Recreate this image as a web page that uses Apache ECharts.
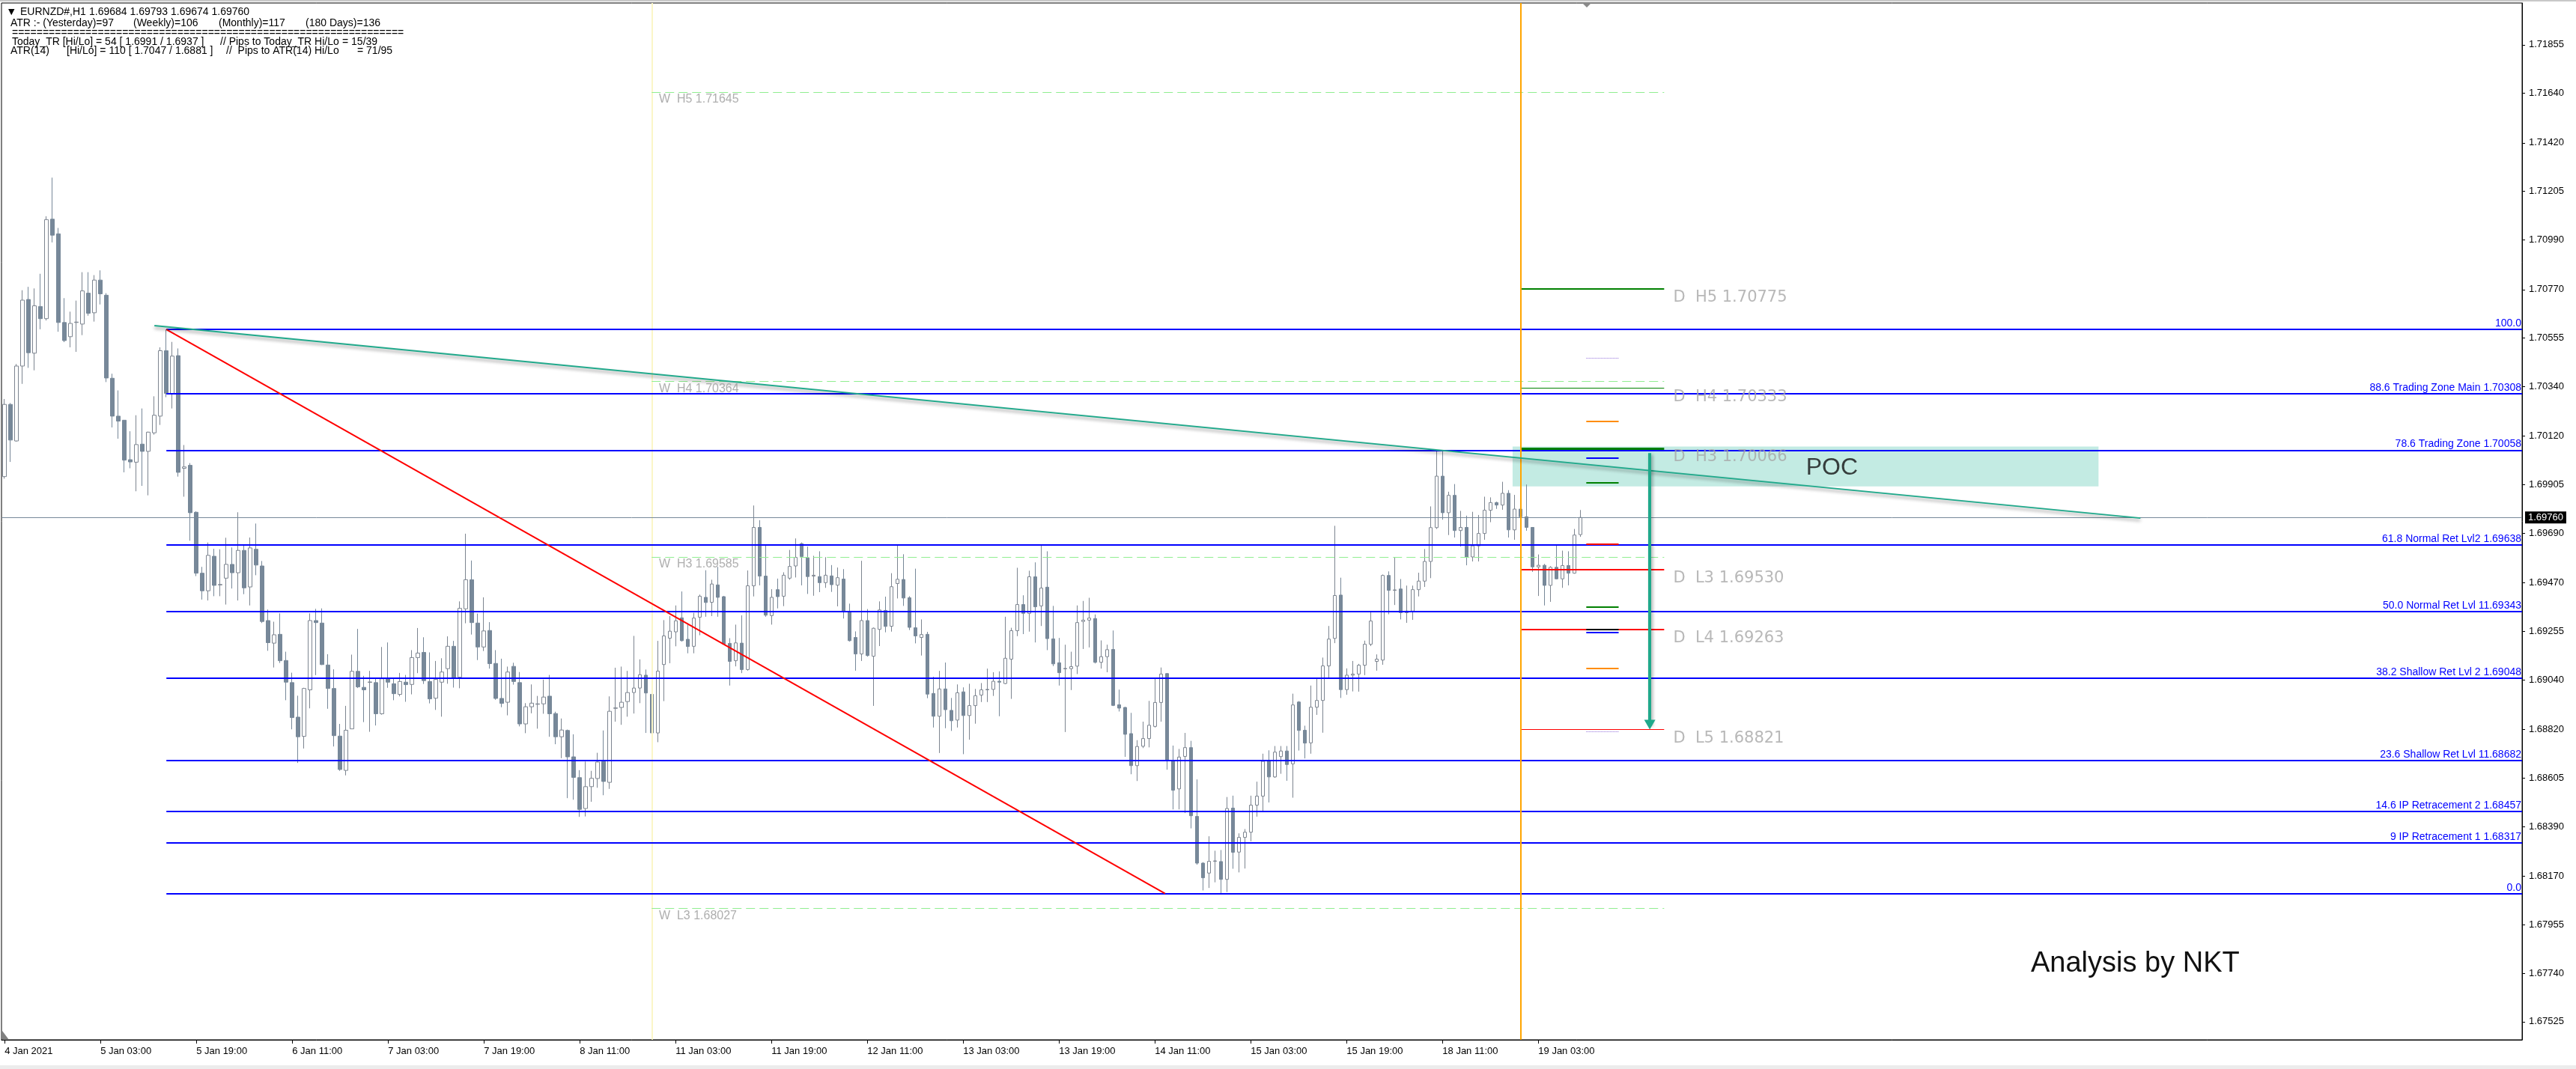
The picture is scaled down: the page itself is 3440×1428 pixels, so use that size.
<!DOCTYPE html>
<html><head><meta charset="utf-8">
<script src="https://cdn.jsdelivr.net/npm/echarts@6/dist/echarts.min.js"></script>
<style>html,body{margin:0;padding:0;background:#fff;}#c{width:3440px;height:1428px;}</style>
</head><body><div id="c"></div><script>
// ---- DATA ----
// EURNZD H1 candles, bar 0 = 4 Jan 2021 11:00 ; each item [open, close, low, high]
const candles = [
[1.69941,1.70261,1.69932,1.70285],[1.70261,1.70103,1.70006,1.70267],[1.70099,1.70431,1.70096,1.70440],[1.70431,1.70723,1.70352,1.70767],
[1.70726,1.70490,1.70423,1.70782],[1.70488,1.70698,1.70412,1.70775],[1.70695,1.70641,1.70594,1.70840],[1.70641,1.71080,1.70633,1.71095],
[1.71082,1.71011,1.70979,1.71266],[1.71017,1.70624,1.70583,1.71043],[1.70624,1.70544,1.70537,1.70732],[1.70561,1.70620,1.70514,1.70672],
[1.70624,1.70626,1.70494,1.70721],[1.70617,1.70764,1.70568,1.70847],[1.70754,1.70665,1.70654,1.70847],[1.70667,1.70812,1.70628,1.70834],
[1.70812,1.70751,1.70704,1.70855],[1.70745,1.70378,1.70360,1.70754],[1.70377,1.70209,1.70159,1.70397],[1.70209,1.70187,1.70109,1.70323],
[1.70191,1.70014,1.69960,1.70191],[1.70016,1.70006,1.69978,1.70142],[1.70005,1.70083,1.69876,1.70213],[1.70085,1.70053,1.69900,1.70243],
[1.70053,1.70138,1.69858,1.70140],[1.70135,1.70213,1.70127,1.70297],[1.70209,1.70499,1.70170,1.70514],[1.70499,1.70310,1.70293,1.70593],
[1.70308,1.70475,1.70243,1.70538],[1.70477,1.69960,1.69941,1.70509],[1.69978,1.69984,1.69852,1.70081],[1.69991,1.69781,1.69657,1.70001],
[1.69783,1.69513,1.69500,1.69787],[1.69513,1.69435,1.69396,1.69541],[1.69435,1.69592,1.69392,1.69649],[1.69588,1.69459,1.69411,1.69621],
[1.69461,1.69463,1.69411,1.69619],[1.69491,1.69552,1.69374,1.69670],[1.69552,1.69515,1.69445,1.69627],[1.69515,1.69614,1.69392,1.69783],
[1.69614,1.69448,1.69420,1.69638],[1.69452,1.69625,1.69370,1.69671],[1.69619,1.69549,1.69504,1.69733],[1.69545,1.69299,1.69292,1.69567],
[1.69303,1.69205,1.69169,1.69352],[1.69203,1.69240,1.69095,1.69298],[1.69242,1.69125,1.69115,1.69335],[1.69126,1.69030,1.68950,1.69165],
[1.69028,1.68873,1.68821,1.69072],[1.68875,1.68788,1.68672,1.68970],[1.68790,1.69002,1.68736,1.69005],[1.68996,1.69303,1.68914,1.69335],
[1.69303,1.69294,1.69061,1.69355],[1.69292,1.69108,1.69106,1.69357],[1.69106,1.69002,1.68912,1.69154],[1.69002,1.68793,1.68745,1.69087],
[1.68791,1.68643,1.68637,1.68845],[1.68639,1.68817,1.68617,1.68925],[1.68823,1.69078,1.68823,1.69152],[1.69078,1.69009,1.69004,1.69266],
[1.69007,1.68996,1.68853,1.69058],[1.69029,1.69031,1.68810,1.69080],[1.69028,1.68890,1.68838,1.69048],[1.68890,1.69045,1.68886,1.69186],
[1.69045,1.69030,1.69005,1.69206],[1.69023,1.68979,1.68950,1.69046],[1.68976,1.69033,1.68967,1.69071],[1.69030,1.69019,1.68943,1.69062],
[1.69020,1.69139,1.68976,1.69172],[1.69139,1.69159,1.69070,1.69270],[1.69162,1.69037,1.69022,1.69229],[1.69033,1.68956,1.68936,1.69162],
[1.68959,1.69042,1.68907,1.69124],[1.69030,1.69075,1.68877,1.69136],[1.69090,1.69189,1.69023,1.69233],[1.69189,1.69050,1.69006,1.69213],
[1.69052,1.69357,1.69003,1.69388],[1.69355,1.69484,1.69291,1.69688],[1.69484,1.69294,1.69241,1.69569],[1.69292,1.69186,1.69128,1.69334],
[1.69186,1.69257,1.69168,1.69406],[1.69259,1.69112,1.69090,1.69296],[1.69113,1.68958,1.68952,1.69172],[1.68958,1.68936,1.68919,1.69134],
[1.68941,1.69075,1.68883,1.69099],[1.69100,1.69033,1.69019,1.69116],[1.69028,1.68845,1.68834,1.69075],[1.68845,1.68921,1.68804,1.68937],
[1.68921,1.68937,1.68892,1.69020],[1.68932,1.68934,1.68824,1.68969],[1.68934,1.68964,1.68890,1.69041],[1.68968,1.68890,1.68788,1.69062],
[1.68891,1.68788,1.68755,1.68899],[1.68788,1.68818,1.68693,1.68869],[1.68816,1.68699,1.68516,1.68820],[1.68699,1.68608,1.68509,1.68799],
[1.68607,1.68466,1.68433,1.68640],[1.68470,1.68567,1.68435,1.68678],[1.68567,1.68604,1.68500,1.68637],[1.68603,1.68676,1.68562,1.68717],
[1.68678,1.68590,1.68529,1.68816],[1.68586,1.68901,1.68557,1.68967],[1.68914,1.68916,1.68855,1.69094],[1.68918,1.68941,1.68841,1.69099],
[1.68944,1.68984,1.68877,1.69080],[1.68984,1.69004,1.68891,1.69235],[1.69004,1.69063,1.68937,1.69131],[1.69061,1.68982,1.68805,1.69086],
[1.68976,1.68805,1.68731,1.69020],[1.68805,1.69079,1.68764,1.69213],[1.69108,1.69235,1.68946,1.69305],[1.69225,1.69256,1.69114,1.69323],
[1.69253,1.69302,1.69189,1.69370],[1.69315,1.69214,1.69210,1.69432],[1.69220,1.69188,1.69158,1.69291],[1.69189,1.69314,1.69158,1.69337],
[1.69318,1.69411,1.69238,1.69418],[1.69406,1.69383,1.69320,1.69526],[1.69384,1.69465,1.69323,1.69484],[1.69461,1.69406,1.69320,1.69541],
[1.69409,1.69199,1.69197,1.69412],[1.69202,1.69122,1.69015,1.69225],[1.69125,1.69204,1.69100,1.69285],[1.69203,1.69086,1.69070,1.69326],
[1.69086,1.69457,1.69081,1.69525],[1.69457,1.69716,1.69410,1.69813],[1.69716,1.69500,1.69459,1.69748],[1.69500,1.69327,1.69320,1.69638],
[1.69325,1.69406,1.69285,1.69442],[1.69440,1.69409,1.69357,1.69489],[1.69411,1.69504,1.69367,1.69517],[1.69491,1.69543,1.69484,1.69616],
[1.69545,1.69583,1.69494,1.69667],[1.69644,1.69587,1.69459,1.69649],[1.69581,1.69498,1.69421,1.69631],[1.69500,1.69504,1.69413,1.69590],
[1.69498,1.69471,1.69429,1.69610],[1.69471,1.69504,1.69448,1.69584],[1.69501,1.69462,1.69430,1.69549],[1.69460,1.69493,1.69366,1.69538],
[1.69487,1.69342,1.69312,1.69531],[1.69344,1.69214,1.69210,1.69378],[1.69228,1.69155,1.69081,1.69255],[1.69155,1.69303,1.69124,1.69568],
[1.69303,1.69148,1.69143,1.69354],[1.69145,1.69269,1.68925,1.69272],[1.69264,1.69350,1.69190,1.69388],[1.69348,1.69277,1.69251,1.69409],
[1.69278,1.69453,1.69254,1.69513],[1.69467,1.69486,1.69401,1.69640],[1.69485,1.69403,1.69368,1.69597],[1.69404,1.69273,1.69261,1.69411],
[1.69271,1.69235,1.69202,1.69533],[1.69228,1.69241,1.69148,1.69308],[1.69242,1.68977,1.68959,1.69253],[1.68980,1.68879,1.68829,1.69054],
[1.68879,1.69000,1.68716,1.69080],[1.69000,1.68908,1.68826,1.69117],[1.68905,1.68859,1.68814,1.68960],[1.68862,1.68983,1.68829,1.69020],
[1.68987,1.68882,1.68711,1.69007],[1.68882,1.68926,1.68775,1.69023],[1.68926,1.68970,1.68846,1.69000],[1.68973,1.68996,1.68942,1.69026],
[1.68996,1.68998,1.68942,1.69090],[1.68998,1.69034,1.68969,1.69074],[1.69034,1.69030,1.68879,1.69078],[1.69024,1.69136,1.69021,1.69320],
[1.69132,1.69258,1.68956,1.69271],[1.69258,1.69374,1.69234,1.69537],[1.69374,1.69335,1.69243,1.69415],[1.69335,1.69497,1.69254,1.69524],
[1.69497,1.69364,1.69206,1.69561],[1.69368,1.69447,1.69279,1.69638],[1.69451,1.69223,1.69172,1.69610],[1.69222,1.69111,1.69101,1.69368],
[1.69116,1.69072,1.69015,1.69226],[1.69089,1.69091,1.68809,1.69196],[1.69090,1.69099,1.68995,1.69165],[1.69101,1.69294,1.69066,1.69370],
[1.69299,1.69305,1.69177,1.69390],[1.69305,1.69314,1.69184,1.69404],[1.69312,1.69118,1.69113,1.69330],[1.69118,1.69143,1.69090,1.69215],
[1.69143,1.69174,1.69074,1.69196],[1.69175,1.68927,1.68924,1.69259],[1.68930,1.68915,1.68900,1.68997],[1.68918,1.68799,1.68699,1.68920],
[1.68802,1.68660,1.68622,1.68894],[1.68660,1.68745,1.68592,1.68773],[1.68746,1.68780,1.68738,1.68855],[1.68780,1.68839,1.68741,1.68947],
[1.68834,1.68940,1.68829,1.69046],[1.68940,1.69066,1.68855,1.69095],[1.69068,1.68681,1.68642,1.69070],[1.68681,1.68551,1.68466,1.68749],
[1.68557,1.68698,1.68466,1.68734],[1.68701,1.68740,1.68450,1.68805],[1.68740,1.68438,1.68382,1.68770],[1.68435,1.68228,1.68221,1.68599],
[1.68228,1.68163,1.68107,1.68232],[1.68184,1.68236,1.68118,1.68347],[1.68236,1.68238,1.68143,1.68283],[1.68235,1.68156,1.68093,1.68286],
[1.68156,1.68470,1.68100,1.68521],[1.68472,1.68276,1.68203,1.68527],[1.68277,1.68342,1.68187,1.68360],[1.68342,1.68365,1.68204,1.68379],
[1.68365,1.68485,1.68325,1.68527],[1.68485,1.68525,1.68434,1.68589],[1.68525,1.68679,1.68459,1.68713],[1.68681,1.68610,1.68497,1.68728],
[1.68610,1.68720,1.68606,1.68747],[1.68700,1.68725,1.68624,1.68747],[1.68725,1.68665,1.68593,1.68747],[1.68668,1.68929,1.68518,1.68979],
[1.68942,1.68816,1.68727,1.68946],[1.68817,1.68760,1.68692,1.68837],[1.68761,1.68919,1.68713,1.69015],[1.68919,1.68949,1.68885,1.69050],
[1.68949,1.69102,1.68806,1.69139],[1.69102,1.69221,1.69050,1.69279],[1.69224,1.69414,1.69203,1.69723],[1.69416,1.68997,1.68960,1.69493],
[1.68997,1.69061,1.68974,1.69091],[1.69061,1.69066,1.68989,1.69124],[1.69066,1.69105,1.68988,1.69111],[1.69105,1.69198,1.69061,1.69214],
[1.69198,1.69301,1.69190,1.69345],[1.69122,1.69132,1.69081,1.69153],[1.69128,1.69503,1.69107,1.69507],[1.69503,1.69437,1.69331,1.69521],
[1.69437,1.69439,1.69372,1.69585],[1.69443,1.69338,1.69308,1.69487],[1.69338,1.69345,1.69293,1.69458],[1.69345,1.69440,1.69306,1.69458],
[1.69440,1.69478,1.69410,1.69515],[1.69478,1.69565,1.69452,1.69620],[1.69565,1.69715,1.69491,1.69809],[1.69715,1.69943,1.69709,1.70057],
[1.69943,1.69781,1.69750,1.70057],[1.69781,1.69858,1.69682,1.69874],[1.69858,1.69702,1.69671,1.69908],[1.69702,1.69716,1.69631,1.69789],
[1.69716,1.69585,1.69548,1.69768],[1.69585,1.69634,1.69565,1.69785],[1.69634,1.69689,1.69565,1.69771],[1.69689,1.69792,1.69661,1.69852],
[1.69792,1.69826,1.69739,1.69849],[1.69826,1.69815,1.69798,1.69830],[1.69815,1.69867,1.69794,1.69918],[1.69867,1.69705,1.69671,1.69881],
[1.69705,1.69797,1.69661,1.69860],[1.69797,1.69763,1.69712,1.69829],[1.69763,1.69716,1.69701,1.69906],[1.69716,1.69541,1.69519,1.69716],
[1.69541,1.69548,1.69412,1.69596],[1.69548,1.69459,1.69370,1.69554],[1.69459,1.69539,1.69386,1.69544],[1.69539,1.69488,1.69486,1.69638],
[1.69488,1.69547,1.69448,1.69613],[1.69547,1.69513,1.69459,1.69610],[1.69513,1.69682,1.69511,1.69709],[1.69684,1.69760,1.69674,1.69793]
];
const timeTickIdx  = [0,16,32,48,64,80,96,112,128,144,160,176,192,208,224,240,256];
const timeTickText = ['4 Jan 2021','5 Jan 03:00','5 Jan 19:00','6 Jan 11:00','7 Jan 03:00','7 Jan 19:00','8 Jan 11:00',
  '11 Jan 03:00','11 Jan 19:00','12 Jan 11:00','13 Jan 03:00','13 Jan 19:00','14 Jan 11:00','15 Jan 03:00','15 Jan 19:00',
  '18 Jan 11:00','19 Jan 03:00'];
const priceTicks = [1.71855,1.71640,1.71420,1.71205,1.70990,1.70770,1.70555,1.70340,1.70120,1.69905,1.69690,1.69470,
  1.69255,1.69040,1.68820,1.68605,1.68390,1.68170,1.67955,1.67740,1.67525];
const currentPrice = 1.69760;
const fibPrice = [1.70593,1.70308,1.70058,1.69638,1.69343,1.69048,1.68682,1.68457,1.68317,1.68093];
const fibText  = ['100.0','88.6 Trading Zone Main 1.70308','78.6 Trading Zone 1.70058','61.8 Normal Ret Lvl2 1.69638',
  '50.0 Normal Ret Lvl 11.69343','38.2 Shallow Ret Lvl 2 1.69048','23.6 Shallow Ret Lvl 11.68682',
  '14.6 IP Retracement 2 1.68457','9 IP Retracement 1 1.68317','0.0'];
const fibStartBar = 27;
const dailyPivotName  = ['H5','H4','H3','L3','L4','L5'];
const dailyPivotPrice = [1.70775,1.70333,1.70066,1.69530,1.69263,1.68821];
const weeklyPivotName  = ['H5','H4','H3','L3'];
const weeklyPivotPrice = [1.71645,1.70364,1.69585,1.68027];
const rangeMarkPrice = [1.70468,1.70187,1.70023,1.69913,1.69641,1.69363,1.69252,1.69265,1.69090,1.68811];
const weekSepBar = 108, daySepBar = 253, pivotEndBar = 277;
const rangeMarkBars = [264, 269.4];
const tealTrend = [[25, 1.70610], [356.5, 1.69757]];
const redTrend  = [[27, 1.70593], [193.7, 1.68093]];
const arrowLine = [[274.6, 1.70045], [274.6, 1.68842]];
const pocBox = [[251.7, 1.70074], [349.5, 1.69898]];
const pocLabel = [305, 1.69980];

// ---- STYLE / BUILD ----
const X_MIN = -0.525, X_MAX = 420.2;
const FONT = '"Liberation Sans", Arial, sans-serif';
const rangeMarkStyle = [
  {color:'#9370db',type:'dotted',width:1},{color:'#ff8c00',type:'solid',width:2},{color:'#0000ff',type:'solid',width:2},
  {color:'#008000',type:'solid',width:2},{color:'#ff0000',type:'solid',width:2},{color:'#008000',type:'solid',width:2},
  {color:'#0000ff',type:'solid',width:2},{color:'#000000',type:'solid',width:2},{color:'#ff8c00',type:'solid',width:2},
  {color:'#9370db',type:'dotted',width:1}];
const dailyStyle = [{color:'#008000',width:2},{color:'#008000',width:1},{color:'#008000',width:3},
  {color:'#ff0000',width:2},{color:'#ff0000',width:2},{color:'#ff0000',width:1}].map(s=>Object.assign({type:'solid'},s));

const candleData = candles.map((c,i)=>[i,c[0],c[1],c[2],c[3]]);

const fibLines = fibPrice.map((p,k)=>[
  {coord:[fibStartBar,p], lineStyle:{color:'#0000ff',width:2,type:'solid'},
   label:{show:true,position:'insideEndTop',formatter:fibText[k],color:'#0000ff',fontSize:14,fontFamily:FONT,distance:1}},
  {coord:[X_MAX,p]}]);
const weeklyLines = weeklyPivotPrice.map(p=>[{coord:[weekSepBar,p],lineStyle:{color:'#90ee90',width:1,type:[12,6]}},{coord:[pivotEndBar,p]}]);
const dailyLines = dailyPivotPrice.map((p,k)=>[{coord:[daySepBar,p],lineStyle:dailyStyle[k]},{coord:[pivotEndBar,p]}]);
const rangeLines = rangeMarkPrice.map((p,k)=>[{coord:[rangeMarkBars[0],p],lineStyle:rangeMarkStyle[k]},{coord:[rangeMarkBars[1],p]}]);

const weeklyLabels = weeklyPivotPrice.map((p,k)=>[109.2,p,'W  '+weeklyPivotName[k]+' '+p.toFixed(5)]);
const dailyLabels = dailyPivotPrice.map((p,k)=>[278.5,p,'D  '+dailyPivotName[k]+' '+p.toFixed(5)]);

const hdrFont = '14px "Liberation Sans", Arial, sans-serif';
const header = [
 [11,16,'▼','11px "DejaVu Sans"'],[27,16,'EURNZD#,H1'],[119,16,'1.69684 1.69793 1.69674 1.69760'],
 [14,31,'ATR :- (Yesterday)=97'],[178,31,'(Weekly)=106'],[292,31,'(Monthly)=117'],[408,31,'(180 Days)=136'],
 [16,44,'================================================================'],
 [16,56,'Today_TR [Hi/Lo] = 54 [ 1.6991 / 1.6937 ]'],[294,56,'// Pips to Today_TR Hi/Lo'],[457,56,'= 15/39'],
 [14,68,'ATR(14)'],[89,68,'[Hi/Lo] = 110 [ 1.7047 / 1.6881 ]'],[302,68,'//  Pips to ATR(14) Hi/Lo'],[477,68,'= 71/95']
];

const chart = echarts.init(document.getElementById('c'), null, {renderer:'canvas'});
chart.setOption({
  animation:false,
  backgroundColor:'#ffffff',
  grid:{left:2,right:72,top:4,bottom:39,show:true,borderColor:'#000',borderWidth:1,backgroundColor:'#fff'},
  xAxis:{type:'value',min:X_MIN,max:X_MAX,splitLine:{show:false},
    axisLine:{show:true,onZero:false,lineStyle:{color:'#000',width:1}},
    axisTick:{show:true,customValues:timeTickIdx,length:5,lineStyle:{color:'#000'}},
    axisLabel:{customValues:timeTickIdx,formatter:v=>timeTickText[timeTickIdx.indexOf(Math.round(v))]||'',
      align:'left',margin:9,color:'#000',fontSize:13,fontFamily:FONT}},
  yAxis:{type:'value',position:'right',min:1.67445,max:1.7204,scale:true,splitLine:{show:false},
    axisLine:{show:true,onZero:false,lineStyle:{color:'#000',width:1}},
    axisTick:{show:true,customValues:priceTicks,length:4,lineStyle:{color:'#000'}},
    axisLabel:{customValues:priceTicks,formatter:v=>v.toFixed(5),margin:9,color:'#000',fontSize:13,fontFamily:FONT}},
  series:[
    {type:'candlestick',z:2,data:candleData,encode:{x:0,y:[1,2,3,4]},barWidth:5,
      itemStyle:{color:'#ffffff',color0:'#778899',borderColor:'#7d8590',borderColor0:'#778899',borderWidth:1}},
    {type:'line',z:3,data:[],
      markLine:{silent:true,precision:6,symbol:['none','none'],animation:false,label:{show:false},data:[
        {xAxis:weekSepBar,lineStyle:{color:'#fbf6c8',width:2,type:'solid'},label:{show:false}},
        {yAxis:currentPrice,lineStyle:{color:'#778899',width:1,type:'solid'},
          label:{show:true,position:'end',formatter:currentPrice.toFixed(5),backgroundColor:'#000',color:'#fff',
            padding:[2,4,1,4],fontSize:13,fontFamily:FONT,distance:4}}
      ].concat(weeklyLines)}},
    {type:'line',z:4,data:[],
      markLine:{silent:true,precision:6,symbol:['none','none'],animation:false,label:{show:false},data:fibLines.concat(dailyLines).concat(rangeLines).concat([
        {xAxis:daySepBar,lineStyle:{color:'#ffa500',width:2,type:'solid'},label:{show:false}},
        [{coord:redTrend[0],lineStyle:{color:'#ff0000',width:2,type:'solid'}},{coord:redTrend[1]}],
        [{coord:tealTrend[0],lineStyle:{color:'#1fa98b',width:2,type:'solid',shadowColor:'rgba(0,0,0,0.45)',shadowBlur:4,shadowOffsetY:3}},{coord:tealTrend[1]}]
      ])},
      markArea:{silent:true,itemStyle:{color:'rgba(34,180,150,0.27)'},data:[[{coord:pocBox[0]},{coord:pocBox[1]}]]}},
    {type:'line',z:5,data:[],
      markLine:{silent:true,precision:6,symbol:['none','triangle'],symbolSize:[15,13],animation:false,label:{show:false},
        data:[[{coord:arrowLine[0],lineStyle:{color:'#1fa98b',width:4,type:'solid',shadowColor:'rgba(0,0,0,0.35)',shadowBlur:4,shadowOffsetX:2,shadowOffsetY:2},itemStyle:{color:'#1fa98b'}},{coord:arrowLine[1]}]]}},
    {type:'scatter',z:6,symbolSize:0.1,itemStyle:{color:'rgba(0,0,0,0)'},silent:true,
      data:weeklyLabels,
      label:{show:true,position:'right',distance:0,offset:[0,10],formatter:p=>p.data[2],color:'#9a9a9a',fontSize:16,fontFamily:FONT}},
    {type:'scatter',z:6,symbolSize:0.1,itemStyle:{color:'rgba(0,0,0,0)'},silent:true,
      data:dailyLabels,
      label:{show:true,position:'right',distance:0,offset:[0,12],formatter:p=>p.data[2],color:'#a6a6a6',fontSize:21,fontFamily:'"DejaVu Sans", sans-serif'}},
    {type:'scatter',z:6,symbolSize:0.1,itemStyle:{color:'rgba(0,0,0,0)'},silent:true,
      data:[[pocLabel[0],pocLabel[1],'POC']],
      label:{show:true,position:'inside',formatter:p=>p.data[2],color:'#111',fontSize:32,fontFamily:FONT}}
  ],
  graphic:[
    {type:'rect',shape:{x:0,y:0,width:3440,height:2},style:{fill:'#c8c8c8'},silent:true},
    {type:'rect',shape:{x:0,y:1423,width:3440,height:5},style:{fill:'#ececec'},silent:true},
    {type:'polygon',shape:{points:[[2113,4],[2125,4],[2119,10]]},style:{fill:'#8a8a8a'},silent:true},
    {type:'polygon',shape:{points:[[3,1377],[3,1389],[12,1389]]},style:{fill:'#808080'},silent:true},
    {type:'text',x:2712,y:1288,style:{text:'Analysis by NKT',fill:'#111',font:'38px "Liberation Sans", Arial, sans-serif',verticalAlign:'middle'},silent:true}
  ].concat(header.map(h=>({type:'text',x:h[0],y:h[1],silent:true,
      style:{text:h[2],fill:'#000',font:h[3]||hdrFont,verticalAlign:'middle',align:'left'}})))
});
</script></body></html>
